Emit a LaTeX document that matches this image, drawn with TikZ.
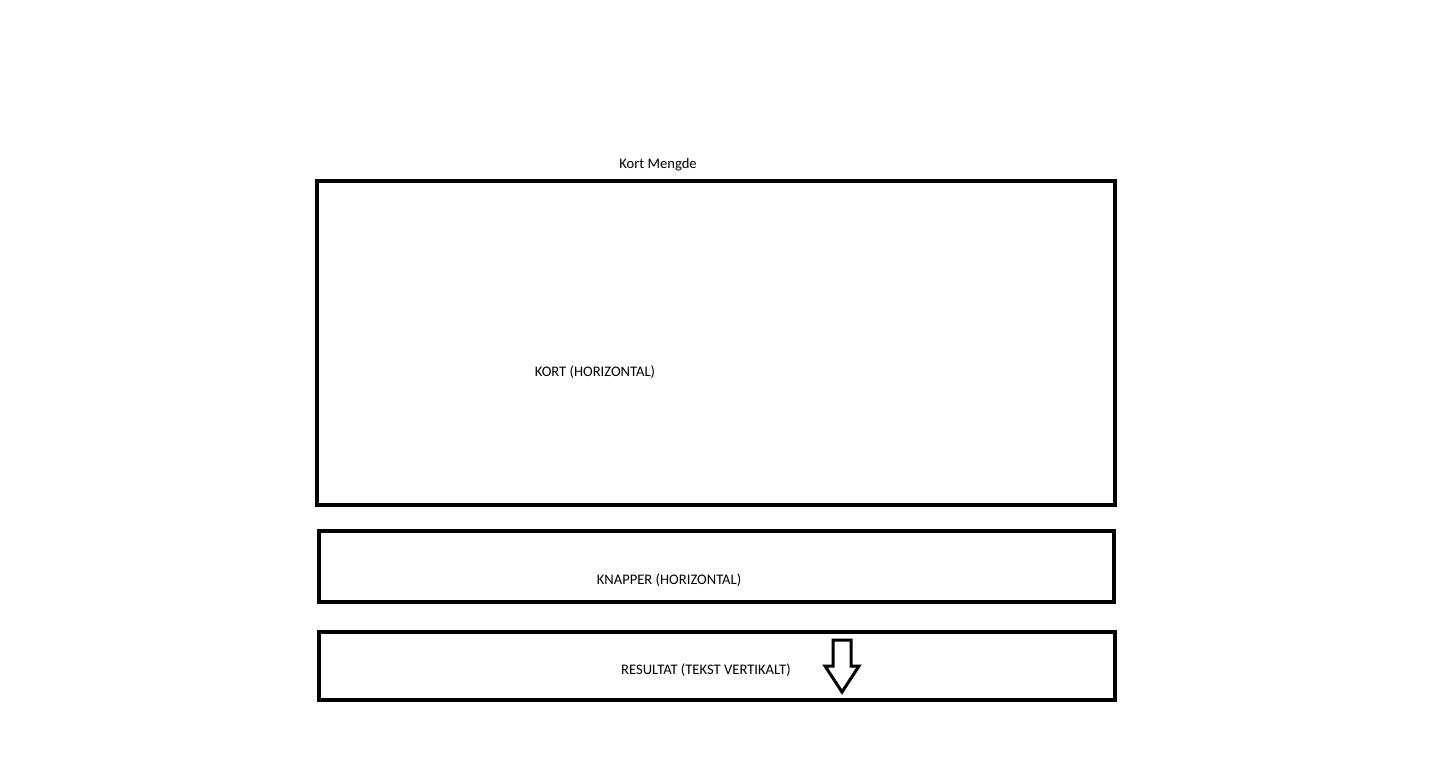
\documentclass[tikz,border=0pt]{standalone}
\usepackage{fontspec}
\setmainfont{Carlito}
\begin{document}
\begin{tikzpicture}[x=1pt,y=-1pt,
  box/.style={draw=black,line width=4pt},
  lbl/.style={font=\fontsize{14.6}{17}\selectfont,inner sep=0pt},
  arrowshape/.style={draw=black,line width=3pt,line join=miter,fill=white}]
\useasboundingbox (0,0) rectangle (1454,756);
\draw[box] (317,181) rectangle (1115,505);
\draw[box] (319,531) rectangle (1114,602);
\draw[box] (319,632) rectangle (1115,700);
\node[lbl] (title) at (658,165) {Kort Mengde};
\node[lbl] (kort) at (595,372) {KORT (HORIZONTAL)};
\node[lbl] (knapper) at (669,580) {KNAPPER (HORIZONTAL)};
\node[lbl] (resultat) at (706,670) {RESULTAT (TEKST VERTIKALT)};
\draw[arrowshape] (833,640) -- (851,640) -- (851,666) -- (859,666) -- (842,692) -- (825,666) -- (833,666) -- cycle;
\end{tikzpicture}
\end{document}
